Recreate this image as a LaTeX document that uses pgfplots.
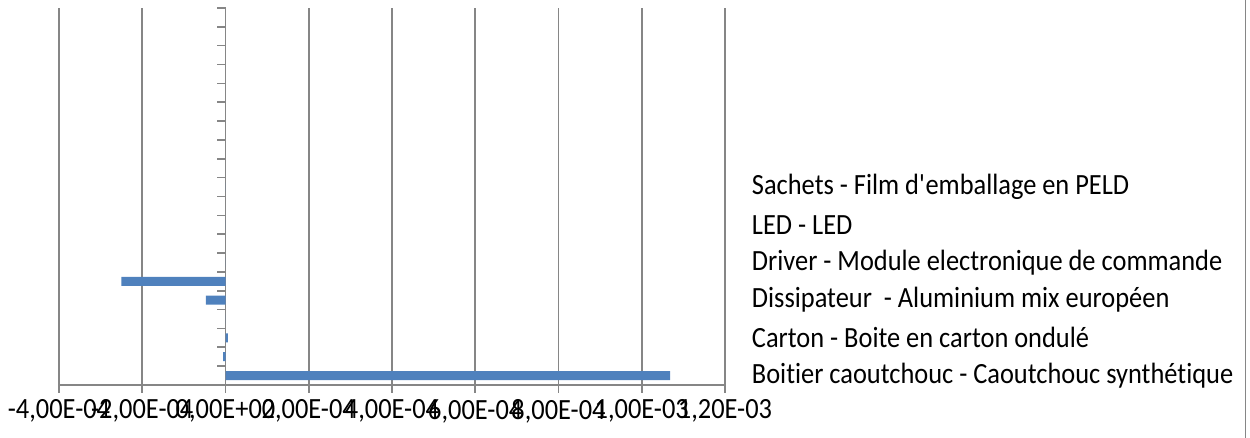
\documentclass[border=0pt]{standalone}
\usepackage{fontspec}
\setmainfont{Carlito}[FakeStretch=0.9, Ligatures=NoCommon]
\usepackage{pgfplots}
\pgfplotsset{compat=1.18}
\definecolor{barblue}{HTML}{4F81BD}
\definecolor{gridgray}{HTML}{868686}
\pgfplotstableread{
y x
1 1.068e-3
2 -5.5e-6
3 5.5e-6
4 0
5 -4.7e-5
6 -2.5e-4
7 0
9 0
11 0
}\impacts
\begin{document}
\begin{tikzpicture}
\begin{axis}[
 at={(0,0)}, anchor=south west,
 scale only axis, width=499.5pt, height=282.75pt,
 xmin=-4e-4, xmax=1.2e-3, ymin=0.5, ymax=20.5,
 axis x line=bottom, axis y line=middle,
 axis line style={-, draw=gridgray, line width=1.2pt},
 xtick={-4e-4,-2e-4,0,2e-4,4e-4,6e-4,8e-4,1e-3,1.2e-3},
 xticklabels={{-4,00E-04},{-2,00E-04},{0,00E+00},{2,00E-04},{4,00E-04},{6,00E-04},{8,00E-04},{1,00E-03},{1,20E-03}},
 scaled x ticks=false,
 ytick={0.5,1.5,...,20.5}, yticklabels={},
 tick align=outside, major tick length=6pt,
 tick style={draw=gridgray, line width=1.2pt},
 xmajorgrids, grid style={draw=gridgray, line width=1.2pt},
 hide obscured x ticks=false, hide obscured y ticks=false,
 tick label style={font=\fontsize{22}{26}\selectfont, text=black},
 xticklabel style={yshift=-1.5pt},
 xbar, bar width=0.48,
]
\addplot[fill=barblue, draw=none] table[x=x,y=y] {\impacts};
\end{axis}
\begin{axis}[
 at={(0,0)}, anchor=south west,
 scale only axis, width=499.5pt, height=282.75pt,
 xmin=-4e-4, xmax=1.2e-3, ymin=0.5, ymax=20.5,
 axis x line=none, axis y line*=right, axis line style={draw=none},
 ytick={1,3,5,7,9,11},
 yticklabels={Boitier caoutchouc - Caoutchouc synthétique, Carton - Boite en carton ondulé, Dissipateur\ \ - Aluminium mix européen, Driver - Module electronique de commande, LED - LED, Sachets - Film d\textquotesingle emballage en PELD},
 major tick length=0pt, tick style={draw=none},
 yticklabel style={font=\fontsize{22}{26}\selectfont, anchor=west, inner sep=0pt, xshift=20pt, text=black},
]
\end{axis}
\draw[gridgray, line width=0.75pt] (889.5pt,-39.75pt) -- (889.5pt,288.75pt);
\pgfresetboundingbox
\useasboundingbox (-44.25pt,-39.75pt) rectangle (893.25pt,288.75pt);
\end{tikzpicture}
\end{document}
